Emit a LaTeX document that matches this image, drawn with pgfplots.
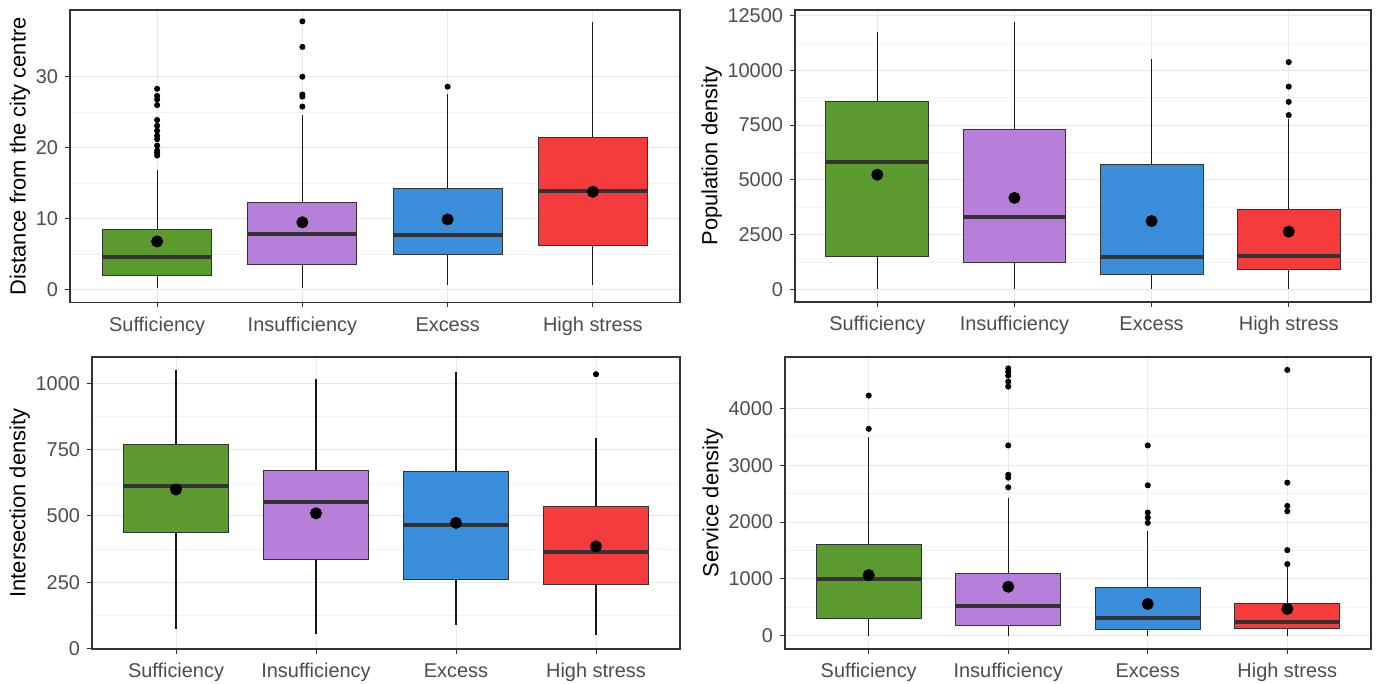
\documentclass[border=0pt]{standalone}
\usepackage{pgfplots}
\pgfplotsset{compat=1.18}
\usepgfplotslibrary{statistics}
\usepackage{fontspec}
\setmainfont{Liberation Sans}
\definecolor{cg}{HTML}{5B9A2F}
\definecolor{cp}{HTML}{B77FD9}
\definecolor{cb}{HTML}{3A8DDA}
\definecolor{cr}{HTML}{F53B3B}
\pgfplotsset{
  gg/.style={
    scale only axis,
    xmin=0.4, xmax=4.6,
    xtick={1,2,3,4},
    xticklabels={Sufficiency,Insufficiency,Excess,High stress},
    axis line style={draw=black!80, line width=0.6bp},
    tick style={draw=black!80, line width=0.5bp},
    tick align=outside,
    major tick length=2.5bp,
    minor tick length=0pt,
    xtick pos=left, ytick pos=left,
    grid=major,
    major grid style={draw=black!9, line width=0.5bp},
    minor y tick num=1,
    yminorgrids=true,
    minor grid style={draw=black!5, line width=0.3bp},
    ticklabel style={font=\fontsize{10}{12}\selectfont, text=black!70},
    xticklabel style={text height=1.6ex, text depth=0.4ex},
    label style={font=\fontsize{11}{13}\selectfont},
    ylabel shift=-4bp,
    /pgf/number format/assume math mode=true,
    /pgf/number format/1000 sep={},
    scaled y ticks=false,
    boxplot/draw direction=y,
    boxplot/box extend=0.75,
    boxplot/whisker extend=0,
    boxplot/every box/.style={draw=black!80, line width=0.5bp},
    boxplot/every whisker/.style={draw=black!90, line width=0.6bp},
    boxplot/every median/.style={draw=black!80, line width=2bp},
  },
  outl/.style={mark=*, mark size=1.3bp, mark options={fill=black, draw=black, solid}},
  meanpt/.style={only marks, mark=*, mark size=2.8bp, black},
}
\begin{document}
\begin{tikzpicture}
\useasboundingbox (0,0) rectangle (690bp,342bp);
% Panel 1
\begin{axis}[gg, at={(35bp,190.75bp)}, anchor=south west, width=305bp, height=146.25bp,
  ymin=-1.8, ymax=39.4, ytick={0,10,20,30},
  ylabel={Distance from the city centre}]
\addplot[boxplot prepared={draw position=1, lower whisker=0.3, lower quartile=2.0, median=4.6, upper quartile=8.5, upper whisker=16.9}, fill=cg, outl]
  table[row sep=\\, y index=0] {18.9\\19.3\\19.6\\20.3\\21.2\\21.7\\22.4\\23.1\\23.9\\26.0\\26.8\\27.3\\28.3\\};
\addplot[boxplot prepared={draw position=2, lower whisker=0.3, lower quartile=3.6, median=7.9, upper quartile=12.3, upper whisker=24.6}, fill=cp, outl]
  table[row sep=\\, y index=0] {25.8\\27.2\\27.5\\30.0\\34.2\\37.8\\};
\addplot[boxplot prepared={draw position=3, lower whisker=0.6, lower quartile=5.0, median=7.7, upper quartile=14.3, upper whisker=27.5}, fill=cb, outl]
  table[row sep=\\, y index=0] {28.6\\};
\addplot[boxplot prepared={draw position=4, lower whisker=0.6, lower quartile=6.2, median=13.9, upper quartile=21.4, upper whisker=37.7}, fill=cr, outl]
  coordinates {};
\addplot[meanpt] coordinates {(1,6.8) (2,9.5) (3,9.9) (4,13.8)};
\end{axis}
% Panel 2
\begin{axis}[gg, at={(397.5bp,191bp)}, anchor=south west, width=288bp, height=146bp,
  ymin=-580, ymax=12760, ytick={0,2500,5000,7500,10000,12500},
  ylabel={Population density}]
\addplot[boxplot prepared={draw position=1, lower whisker=0, lower quartile=1498, median=5810, upper quartile=8565, upper whisker=11756}, fill=cg, outl]
  coordinates {};
\addplot[boxplot prepared={draw position=2, lower whisker=0, lower quartile=1241, median=3313, upper quartile=7308, upper whisker=12210}, fill=cp, outl]
  coordinates {};
\addplot[boxplot prepared={draw position=3, lower whisker=0, lower quartile=681, median=1498, upper quartile=5704, upper whisker=10500}, fill=cb, outl]
  coordinates {};
\addplot[boxplot prepared={draw position=4, lower whisker=0, lower quartile=923, median=1528, upper quartile=3661, upper whisker=7777}, fill=cr, outl]
  table[row sep=\\, y index=0] {7958\\8564\\9260\\10380\\};
\addplot[meanpt] coordinates {(1,5235) (2,4176) (3,3117) (4,2633)};
\end{axis}
% Panel 3
\begin{axis}[gg, at={(46bp,17.5bp)}, anchor=south west, width=294bp, height=146bp,
  ymin=-2, ymax=1100, ytick={0,250,500,750,1000},
  ylabel={Intersection density}]
\addplot[boxplot prepared={draw position=1, lower whisker=75, lower quartile=437, median=612, upper quartile=771, upper whisker=1052}, fill=cg, outl]
  coordinates {};
\addplot[boxplot prepared={draw position=2, lower whisker=54, lower quartile=337, median=554, upper quartile=672, upper whisker=1017}, fill=cp, outl]
  coordinates {};
\addplot[boxplot prepared={draw position=3, lower whisker=90, lower quartile=259, median=465, upper quartile=669, upper whisker=1044}, fill=cb, outl]
  coordinates {};
\addplot[boxplot prepared={draw position=4, lower whisker=50, lower quartile=240, median=365, upper quartile=537, upper whisker=794}, fill=cr, outl]
  table[row sep=\\, y index=0] {1035\\};
\addplot[meanpt] coordinates {(1,600) (2,510) (3,474) (4,385)};
\end{axis}
% Panel 4
\begin{axis}[gg, at={(392.5bp,17.5bp)}, anchor=south west, width=293bp, height=146bp,
  ymin=-230, ymax=4900, ytick={0,1000,2000,3000,4000},
  ylabel={Service density}]
\addplot[boxplot prepared={draw position=1, lower whisker=0, lower quartile=310, median=993, upper quartile=1606, upper whisker=3492}, fill=cg, outl]
  table[row sep=\\, y index=0] {3638\\4222\\};
\addplot[boxplot prepared={draw position=2, lower whisker=0, lower quartile=181, median=526, upper quartile=1098, upper whisker=2424}, fill=cp, outl]
  table[row sep=\\, y index=0] {2610\\2780\\2832\\3346\\4380\\4468\\4573\\4643\\4700\\};
\addplot[boxplot prepared={draw position=3, lower whisker=0, lower quartile=105, median=321, upper quartile=847, upper whisker=1845}, fill=cb, outl]
  table[row sep=\\, y index=0] {1986\\2079\\2167\\2646\\3346\\};
\addplot[boxplot prepared={draw position=4, lower whisker=0, lower quartile=123, median=251, upper quartile=572, upper whisker=1240}, fill=cr, outl]
  table[row sep=\\, y index=0] {1261\\1507\\2190\\2283\\2692\\4672\\};
\addplot[meanpt] coordinates {(1,1069) (2,864) (3,561) (4,473)};
\end{axis}
\end{tikzpicture}
\end{document}
